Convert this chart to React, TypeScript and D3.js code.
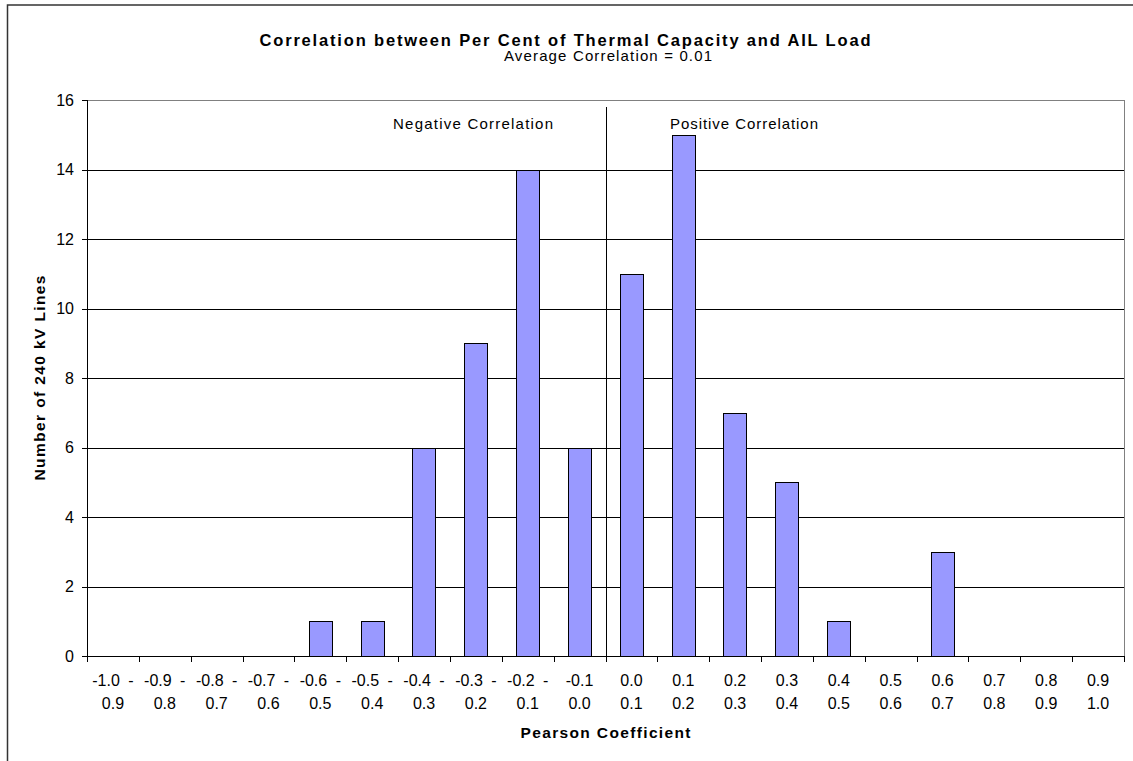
import React from 'react';
import * as d3 from 'd3';

// Pearson coefficient bins (two-line labels as printed under the axis)
const binTop = [
  '-1.0 -', '-0.9 -', '-0.8 -', '-0.7 -', '-0.6 -', '-0.5 -', '-0.4 -', '-0.3 -', '-0.2 -', '-0.1',
  '0.0', '0.1', '0.2', '0.3', '0.4', '0.5', '0.6', '0.7', '0.8', '0.9',
];
const binBottom = [
  '0.9', '0.8', '0.7', '0.6', '0.5', '0.4', '0.3', '0.2', '0.1', '0.0',
  '0.1', '0.2', '0.3', '0.4', '0.5', '0.6', '0.7', '0.8', '0.9', '1.0',
];
const lineCounts = [0, 0, 0, 0, 1, 1, 6, 9, 14, 6, 11, 15, 7, 5, 1, 0, 3, 0, 0, 0];
const yTicks = [0, 2, 4, 6, 8, 10, 12, 14, 16];

const W = 1133;
const H = 761;
const margin = { top: 100, right: 9, bottom: 105, left: 87 };
const FONT = '"Liberation Sans", Arial, Helvetica, sans-serif';

const App = () => {
  const left = margin.left;
  const right = W - margin.right;
  const top = margin.top;
  const bottom = H - margin.bottom;

  const x = d3.scaleBand<number>()
    .domain(d3.range(lineCounts.length))
    .range([left, right])
    .padding(0);
  const y = d3.scaleLinear().domain([0, 16]).range([bottom, top]);

  const step = x.step();
  const barW = step * 0.45;
  const divider = x(10)!; // boundary between negative and positive bins

  return (
    <svg
      width={W}
      height={H}
      style={{ position: 'absolute', left: 0, top: 0, background: '#fff' }}
      fontFamily={FONT}
    >
      {/* chart frame */}
      <rect x={7.5} y={5} width={W + 20} height={H + 20} fill="#fff" stroke="#333" strokeWidth={1.5} />

      {/* titles */}
      <text x={565} y={46} textAnchor="middle" fontSize={16.5} fontWeight="bold" textLength={611} lengthAdjust="spacing">
        Correlation between Per Cent of Thermal Capacity and AIL Load
      </text>
      <text x={608} y={61} textAnchor="middle" fontSize={15} textLength={208} lengthAdjust="spacing">
        Average Correlation = 0.01
      </text>

      {/* plot border + grid */}
      <line x1={left} x2={right} y1={top + 0.5} y2={top + 0.5} stroke="#808080" />
      <line x1={right + 0.5} x2={right + 0.5} y1={top} y2={bottom} stroke="#808080" />
      {yTicks.filter(t => t > 0 && t < 16).map(t => (
        <line key={t} x1={left} x2={right} y1={Math.round(y(t)) + 0.5} y2={Math.round(y(t)) + 0.5} stroke="#000" />
      ))}

      {/* bars */}
      {lineCounts.map((v, i) => v > 0 && (
        <rect
          key={i}
          x={Math.round(x(i)! + (step - barW) / 2) + 0.5}
          y={Math.round(y(v)) + 0.5}
          width={Math.round(barW)}
          height={Math.round(y(0)) - Math.round(y(v))}
          fill="#9999ff"
          stroke="#000"
          strokeWidth={1}
        />
      ))}

      {/* divider between negative and positive */}
      <line x1={Math.round(divider) + 0.5} x2={Math.round(divider) + 0.5} y1={107} y2={bottom} stroke="#000" />
      <text x={473} y={129} textAnchor="middle" fontSize={15} textLength={160} lengthAdjust="spacing">Negative Correlation</text>
      <text x={744} y={129} textAnchor="middle" fontSize={15} textLength={148} lengthAdjust="spacing">Positive Correlation</text>

      {/* y axis */}
      <line x1={left + 0.5} x2={left + 0.5} y1={top} y2={bottom} stroke="#000" />
      {yTicks.map(t => (
        <g key={t}>
          <line x1={left - 5} x2={left} y1={Math.round(y(t)) + 0.5} y2={Math.round(y(t)) + 0.5} stroke="#000" />
          <text x={74} y={y(t)} dy="0.36em" textAnchor="end" fontSize={16}>{t}</text>
        </g>
      ))}
      <text
        transform={`translate(45,${(top + bottom) / 2}) rotate(-90)`}
        textAnchor="middle"
        fontSize={15.5}
        fontWeight="bold"
        textLength={205}
        lengthAdjust="spacing"
      >
        Number of 240 kV Lines
      </text>

      {/* x axis */}
      <line x1={left} x2={right} y1={bottom + 0.5} y2={bottom + 0.5} stroke="#000" />
      {d3.range(lineCounts.length + 1).map(i => {
        const xx = Math.round(left + i * step) + 0.5;
        return <line key={i} x1={xx} x2={xx} y1={bottom} y2={bottom + 6} stroke="#000" />;
      })}
      {binTop.map((lab, i) => (
        <g key={i}>
          <text x={x(i)! + step / 2} y={686} textAnchor="middle" fontSize={16} wordSpacing={4}>{lab}</text>
          <text x={x(i)! + step / 2} y={709} textAnchor="middle" fontSize={16}>{binBottom[i]}</text>
        </g>
      ))}
      <text x={(left + right) / 2} y={738} textAnchor="middle" fontSize={15.5} fontWeight="bold" textLength={170} lengthAdjust="spacing">
        Pearson Coefficient
      </text>
    </svg>
  );
};

export default App;
